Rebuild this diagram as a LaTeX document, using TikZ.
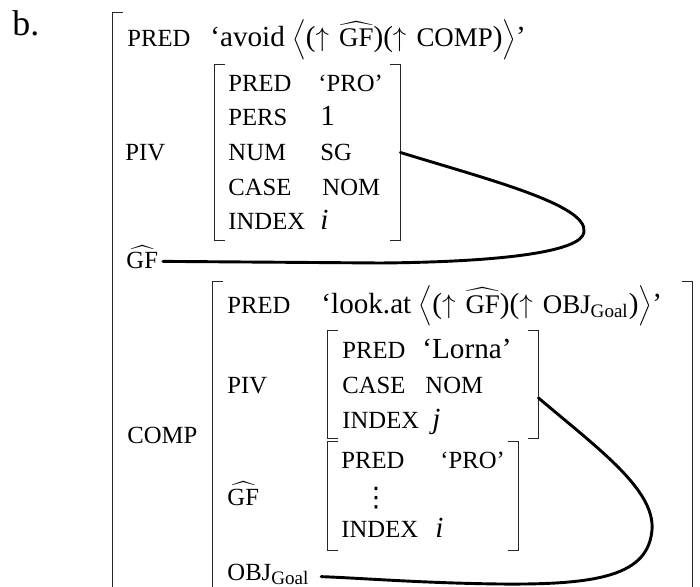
\documentclass[tikz,border=0pt]{standalone}
\usepackage{fontspec}
\setmainfont{Liberation Serif}
\newfontfamily\symfont{DejaVu Sans}
\usetikzlibrary{fit}

\newcommand{\ftsz}{\fontsize{11}{13}\selectfont}
\newcommand{\fmsz}{\fontsize{12}{14}\selectfont}
\newcommand{\gfhat}{$\widehat{\hbox{GF}}$}
\newcommand{\upar}{$\uparrow$\hspace{4.5pt}}
\newcommand{\fsbrackets}[1]{%
  \draw[brk] ([xshift=4.5pt]#1.north west) -- (#1.north west)
    -- (#1.south west) -- ([xshift=4.5pt]#1.south west);
  \draw[brk] ([xshift=-4.5pt]#1.north east) -- (#1.north east)
    -- (#1.south east) -- ([xshift=-4.5pt]#1.south east);}

\begin{document}
\begin{tikzpicture}[
      x=0.446pt, y=-0.446pt,
      feat/.style={anchor=base west, inner sep=0pt, font=\ftsz},
      val/.style={anchor=base west, inner sep=0pt,
          font=\fontsize{13}{15}\selectfont},
      fs/.style={draw=none, inner sep=0pt},
      brk/.style={line width=0.5pt, black!85},
      link/.style={line width=1.3pt, line cap=round},
    ]
    \useasboundingbox (0,0) rectangle (700,587);
    \clip (0,0) rectangle (700,587);

    %% ── example label ───────────────────────────────────────────────────────
    \node[anchor=base west, inner sep=0pt, font=\fontsize{16}{18}\selectfont]
      at (12, 36) (exlabel) {b.};

    %% ── outer f-structure ───────────────────────────────────────────────────
    \node[fs, fit={(113,13) (760,640)}] (outerfs) {};
    \fsbrackets{outerfs}

    \node[feat] at (127, 47) (pred1) {PRED};
    \node[val]  at (210, 47) (avoid)
    {‘avoid $\Big\langle$(\upar{\fmsz\gfhat})(\upar{\fmsz COMP})$\Big\rangle$’};

    %% ── PIV ─────────────────────────────────────────────────────────────────
    \node[feat] at (125, 161) (piv1) {PIV};
    \node[fs, fit={(215,65) (400,240)}] (pivfs) {};
    \fsbrackets{pivfs}

    \node[feat] at (228,  92) (pivpred)  {PRED};
    \node[feat] at (318,  92) (pivpro)   {‘PRO’};
    \node[feat] at (228, 126) (pivpers)  {PERS};
    \node[val]  at (320, 126) (pivone)   {1};
    \node[feat] at (228, 161) (pivnum)   {NUM};
    \node[feat] at (320, 161) (pivsg)    {SG};
    \node[feat] at (228, 196) (pivcase)  {CASE};
    \node[feat] at (322, 196) (pivnom)   {NOM};
    \node[feat] at (228, 230) (pivindex) {INDEX};
    \node[val]  at (320, 230) (pivi)     {\itshape i};

    %% ── GF ──────────────────────────────────────────────────────────────────
    \node[feat] at (126, 269) (gf1) {\gfhat};

    %% ── COMP ────────────────────────────────────────────────────────────────
    \node[feat] at (127, 443) (comp) {COMP};
    \node[fs, fit={(213,282) (692,640)}] (compfs) {};
    \fsbrackets{compfs}

    \node[feat] at (227, 313) (pred2) {PRED};
    \node[val]  at (321, 313) (lookat)
    {‘look.at $\Big\langle$(\upar{\fmsz\gfhat})(\upar{\fmsz OBJ}$_{\hbox{\fontsize{8.5}{9}\selectfont Goal}}$)$\Big\rangle$’};

    % PIV inside COMP
    \node[feat] at (227, 393) (piv2) {PIV};
    \node[fs, fit={(328,331) (538,438)}] (lornafs) {};
    \fsbrackets{lornafs}

    \node[feat] at (342, 358) (lornapred)  {PRED};
    \node[val]  at (422, 358) (lorna)      {‘Lorna’};
    \node[feat] at (342, 393) (lornacase)  {CASE};
    \node[feat] at (425, 393) (lornanom)   {NOM};
    \node[feat] at (342, 428) (lornaindex) {INDEX};
    \node[val]  at (432, 428) (lornaj)     {\itshape j};

    % GF inside COMP
    \node[feat] at (227, 505) (gf2) {\gfhat};
    \node[fs, fit={(328,442) (518,550)}] (profs) {};
    \fsbrackets{profs}

    \node[feat] at (341, 468) (propred)  {PRED};
    \node[feat] at (440, 468) (pro)      {‘PRO’};
    \node[inner sep=0pt, font=\symfont\fontsize{12}{14}\selectfont]
      at (376, 498) (prodots) {⋮};
    \node[feat] at (341, 537) (proindex) {INDEX};
    \node[val]  at (435, 537) (proi)     {\itshape i};

    % OBJ Goal
    \node[feat] at (227, 580) (obj)
    {OBJ$_{\hbox{\fontsize{8.5}{9}\selectfont Goal}}$};

    %% ── LINKS ───────────────────────────────────────────────────────────────
    \draw[link] (pivfs.east) .. controls (490,180) and (588,205) .. (584,232)
      .. controls (582,252) and (500,262) .. (380,263)
      -- ([xshift=2pt, yshift=3.4pt]gf1.base east);
    \draw[link] ([yshift=-6pt]lornafs.east) .. controls (600,450) and (655,490) .. (652,530)
      .. controls (648,575) and (600,585) .. (500,584)
      .. controls (420,583) and (360,578) .. ([xshift=5pt, yshift=1.5pt]obj.base east);

  \end{tikzpicture}
\end{document}
